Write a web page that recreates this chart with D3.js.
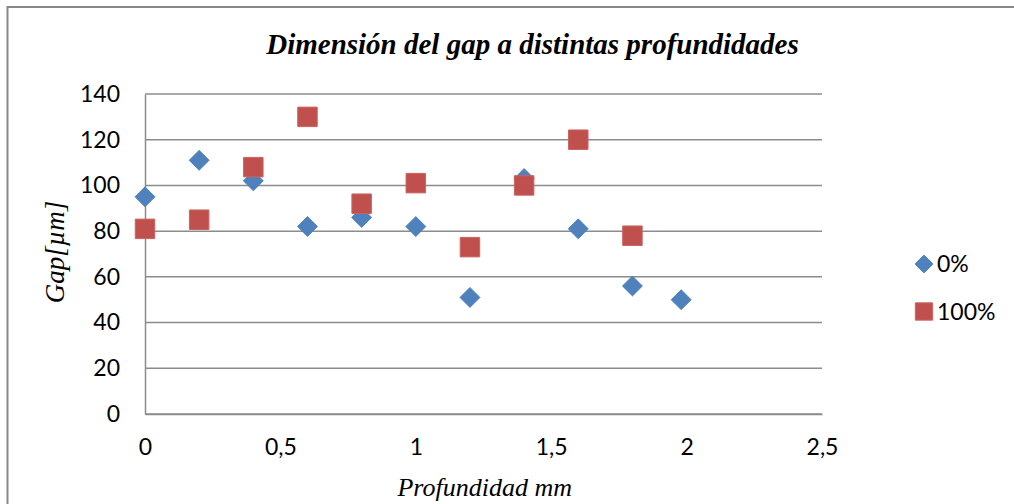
<!DOCTYPE html>
<html>
<head>
<meta charset="utf-8">
<script src="https://cdn.jsdelivr.net/npm/d3@7"></script>
<style>
  html, body { margin: 0; padding: 0; background: #fff; }
  svg { display: block; }
</style>
</head>
<body>
<svg id="chart" width="1014" height="504"></svg>
<script>
// Depth (mm) and gap (µm) measurements for each series
const depth0 = [0, 0.2, 0.4, 0.6, 0.8, 1.0, 1.2, 1.4, 1.6, 1.8, 1.98];
const gap0 = [95, 111, 102, 82, 86, 82, 51, 103, 81, 56, 50];
const depth100 = [0, 0.2, 0.4, 0.6, 0.8, 1.0, 1.2, 1.4, 1.6, 1.8];
const gap100 = [81, 85, 108, 130, 92, 101, 73, 100, 120, 78];

const seriesNames = ["0%", "100%"];
const xTicks = [0, 0.5, 1, 1.5, 2, 2.5];
const yTicks = [0, 20, 40, 60, 80, 100, 120, 140];

const titleText = "Dimensión del gap a distintas profundidades";
const xLabel = "Profundidad mm";
const yLabel = "Gap[µm]";

const blue = "#4F81BD", blueEdge = "#4A7EBB";
const red = "#C0504D", redEdge = "#C96461";
const gridColor = "#8C8C8C";
const sansFont = "Lato, 'Open Sans', sans-serif";
const serifFont = "'Liberation Serif', 'Times New Roman', serif";

const svg = d3.select("#chart");

// Outer chart frame (continues past the right and bottom edges)
svg.append("path")
  .attr("d", "M7.5,520 V7 H1030")
  .attr("fill", "none")
  .attr("stroke", "#878787")
  .attr("stroke-width", 2);

const x = d3.scaleLinear().domain([0, 2.5]).range([145, 822]);
const y = d3.scaleLinear().domain([0, 140]).range([414, 94]);

// Horizontal gridlines
svg.append("g")
  .selectAll("line")
  .data(yTicks)
  .join("line")
  .attr("x1", x(0)).attr("x2", x(2.5))
  .attr("y1", d => y(d)).attr("y2", d => y(d))
  .attr("stroke", gridColor)
  .attr("stroke-width", 1.5);

// Y axis
const yAxis = svg.append("g")
  .attr("transform", `translate(${x(0)},0)`)
  .call(d3.axisLeft(y).tickValues(yTicks).tickSize(0).tickPadding(25)
    .tickFormat(d => d));
yAxis.select(".domain").attr("stroke", gridColor).attr("stroke-width", 1.5);
yAxis.selectAll("text")
  .attr("font-family", sansFont)
  .attr("font-size", 23)
  .attr("fill", "#000");

// X axis
const xAxis = svg.append("g")
  .attr("transform", `translate(0,${y(0)})`)
  .call(d3.axisBottom(x).tickValues(xTicks).tickSize(0).tickPadding(25)
    .tickFormat(d => String(d).replace(".", ",")));
xAxis.select(".domain").attr("stroke", gridColor).attr("stroke-width", 1.5);
xAxis.selectAll("text")
  .attr("font-family", sansFont)
  .attr("font-size", 23)
  .attr("fill", "#000");

// Marker shapes
const diamond = d3.symbol().type(d3.symbolSquare).size(200);
const square = d3.symbol().type(d3.symbolSquare).size(380);

// 0% series: diamonds
svg.append("g")
  .selectAll("path")
  .data(depth0.map((d, i) => [d, gap0[i]]))
  .join("path")
  .attr("d", diamond)
  .attr("transform", d => `translate(${x(d[0])},${y(d[1])}) rotate(45)`)
  .attr("fill", blue)
  .attr("stroke", blueEdge)
  .attr("stroke-width", 0.8);

// 100% series: squares
svg.append("g")
  .selectAll("path")
  .data(depth100.map((d, i) => [d, gap100[i]]))
  .join("path")
  .attr("d", square)
  .attr("transform", d => `translate(${x(d[0])},${y(d[1])})`)
  .attr("fill", red)
  .attr("stroke", redEdge)
  .attr("stroke-width", 1);

// Title
svg.append("text")
  .attr("x", 532.5).attr("y", 54)
  .attr("text-anchor", "middle")
  .attr("font-family", serifFont)
  .attr("font-style", "italic")
  .attr("font-weight", "bold")
  .attr("font-size", 29)
  .text(titleText);

// Axis titles
svg.append("text")
  .attr("x", 484.7).attr("y", 496)
  .attr("text-anchor", "middle")
  .attr("font-family", serifFont)
  .attr("font-style", "italic")
  .attr("font-size", 26)
  .text(xLabel);

svg.append("text")
  .attr("transform", "translate(64,252) rotate(-90)")
  .attr("text-anchor", "middle")
  .attr("font-family", serifFont)
  .attr("font-style", "italic")
  .attr("font-size", 27)
  .text(yLabel);

// Legend
const legend = svg.append("g").attr("transform", "translate(924,0)");
const legendRows = [
  { name: seriesNames[0], cy: 264, shape: "diamond" },
  { name: seriesNames[1], cy: 311.5, shape: "square" }
];
legendRows.forEach(r => {
  if (r.shape === "diamond") {
    legend.append("path")
      .attr("d", d3.symbol().type(d3.symbolSquare).size(162)())
      .attr("transform", `translate(0,${r.cy}) rotate(45)`)
      .attr("fill", blue).attr("stroke", blueEdge).attr("stroke-width", 0.8);
  } else {
    legend.append("path")
      .attr("d", d3.symbol().type(d3.symbolSquare).size(300)())
      .attr("transform", `translate(0,${r.cy})`)
      .attr("fill", red).attr("stroke", redEdge).attr("stroke-width", 1);
  }
  legend.append("text")
    .attr("x", 13).attr("y", r.cy + 8)
    .attr("font-family", sansFont)
    .attr("font-size", 23)
    .attr("fill", "#000")
    .text(r.name);
});
</script>
</body>
</html>
